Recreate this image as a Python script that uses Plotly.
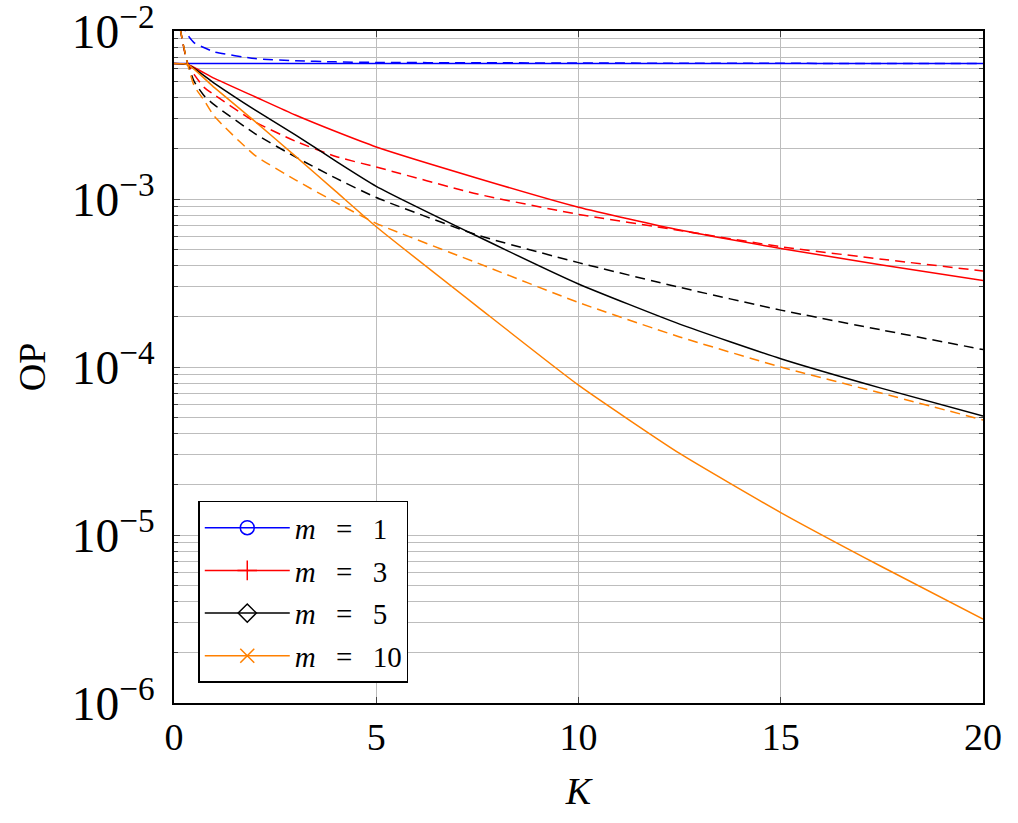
import plotly.graph_objects as go

# K values where the curves were read
k_solid = [0, 0.35, 1, 2, 3, 4, 5, 7.5, 10, 12.5, 15, 17.5, 20]
k_dash = [0.1, 0.15, 0.32, 0.5, 0.75, 1, 2, 3, 4, 5, 7.5, 10, 12.5, 15, 17.5, 20]

# solid curves
op_m1 = [6.4e-3] * len(k_solid)
op_m3 = [6.4e-3, 6.3e-3, 5.22e-3, 4.06e-3, 3.16e-3, 2.52e-3, 2.04e-3, 1.33e-3, 8.93e-4, 6.53e-4, 5.08e-4, 4.05e-4, 3.27e-4]
op_m5 = [6.4e-3, 6.3e-3, 4.88e-3, 3.39e-3, 2.41e-3, 1.68e-3, 1.19e-3, 6.0e-4, 3.12e-4, 1.8e-4, 1.12e-4, 7.46e-5, 5.1e-5]
op_m10 = [6.4e-3, 6.3e-3, 4.6e-3, 2.9e-3, 1.8e-3, 1.11e-3, 6.84e-4, 2.29e-4, 7.8e-5, 3.06e-5, 1.36e-5, 6.47e-6, 3.16e-6]

# dashed curves
op_m1_d = [1.4e-2, 1.2e-2, 9.6e-3, 8.5e-3, 7.95e-3, 7.5e-3, 6.85e-3, 6.65e-3, 6.55e-3, 6.5e-3, 6.47e-3, 6.45e-3, 6.43e-3, 6.42e-3, 6.41e-3, 6.4e-3]
op_m3_d = [1.6e-2, 1.05e-2, 6.6e-3, 5.5e-3, 4.6e-3, 4.16e-3, 2.88e-3, 2.21e-3, 1.79e-3, 1.55e-3, 1.07e-3, 8.1e-4, 6.5e-4, 5.2e-4, 4.38e-4, 3.73e-4]
op_m5_d = [1.6e-2, 1.05e-2, 6.6e-3, 5.0e-3, 4.1e-3, 3.63e-3, 2.45e-3, 1.78e-3, 1.33e-3, 1.02e-3, 6.1e-4, 4.18e-4, 2.98e-4, 2.18e-4, 1.66e-4, 1.27e-4]
op_m10_d = [1.6e-2, 1.05e-2, 6.6e-3, 4.7e-3, 3.85e-3, 3.1e-3, 1.82e-3, 1.3e-3, 9.55e-4, 7.16e-4, 4.16e-4, 2.42e-4, 1.51e-4, 1.0e-4, 6.97e-5, 4.84e-5]

sp = "\u2002\u2009"
names = ["<i>m</i>" + sp + "=" + sp + v for v in ["1", "3", "5", "10"]]
colors = ["#0000ff", "#ff0000", "#000000", "#ff8000"]
symbols = ["circle-open", "cross-thin", "diamond-open", "x-thin"]

solid = [op_m1, op_m3, op_m5, op_m10]
dashed = [op_m1_d, op_m3_d, op_m5_d, op_m10_d]

serif = "Liberation Serif"

fig = go.Figure()

for i in range(4):
    fig.add_trace(go.Scatter(x=k_solid, y=solid[i], mode="lines", showlegend=False,
                             line=dict(color=colors[i], width=1.5, shape="spline", smoothing=0.5)))
    fig.add_trace(go.Scatter(x=k_dash, y=dashed[i], mode="lines", showlegend=False,
                             line=dict(color=colors[i], width=1.5, dash="10px,6px",
                                       shape="spline", smoothing=0.5)))

# legend entries (markers only shown in the legend)
for i in range(4):
    fig.add_trace(go.Scatter(x=[None], y=[None], mode="lines+markers", name=names[i],
                             legendgroup="g%d" % i,
                             line=dict(color=colors[i], width=1.5),
                             marker=dict(symbol=symbols[i], size=14, color=colors[i],
                                         line=dict(color=colors[i], width=1.5))))

axis_common = dict(
    showline=True, linecolor="black", linewidth=1.5, mirror="allticks",
    ticks="inside", ticklen=6, tickcolor="#444444", tickwidth=1,
    showgrid=True, gridcolor="#bdbdbd", gridwidth=1.2,
    zeroline=False, ticklabeloverflow="allow", automargin=False,
    tickfont=dict(family=serif, size=38, color="black"),
)

fig.update_xaxes(range=[0, 20], dtick=5, tick0=0,
                 title=dict(text="<i>K</i>", font=dict(family=serif, size=38, color="black"), standoff=20),
                 **axis_common)
fig.update_yaxes(type="log", range=[-6.00001, -1.99999], dtick=1, exponentformat="power",
                 ticklabelstandoff=10,
                 minor=dict(ticks="inside", ticklen=4, tickcolor="#444444", showgrid=True,
                            gridcolor="#bdbdbd", gridwidth=1.2, dtick="D1"),
                 title=dict(text="OP", font=dict(family=serif, size=38, color="black"), standoff=14),
                 **axis_common)

fig.update_layout(
    width=1018, height=823,
    margin=dict(l=174, r=35, t=31, b=120),
    plot_bgcolor="white", paper_bgcolor="white",
    legend=dict(x=0.03, y=0.03, xanchor="left", yanchor="bottom",
                bgcolor="white", bordercolor="black", borderwidth=1.5,
                font=dict(family=serif, size=29, color="black"),
                traceorder="grouped", tracegroupgap=2, itemwidth=85),
)

# drop the default page margin so the figure sits at the window corner
fig.write_html("out.html", config={"displayModeBar": False},
               post_script="document.body.style.margin='0px';")
